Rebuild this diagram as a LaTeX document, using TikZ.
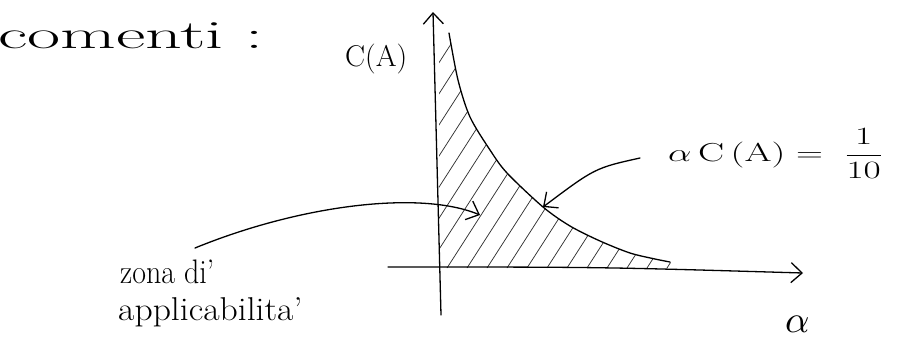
\documentclass[tikz,border=0pt]{standalone}
\usetikzlibrary{arrows.meta}
\begin{document}
\begin{tikzpicture}[x=1pt,y=-1pt,
  ink/.style={line width=1.3pt,line cap=round,line join=round,black},
  barb/.style={-{Straight Barb[length=11pt,width=20pt,line width=1.3pt]}},
  hatch/.style={line width=0.75pt,black!80},
  hand/.style={inner sep=0pt,anchor=base west}]
\useasboundingbox (0,0) rectangle (907,349);
% hatched region between axis and curve
\begin{scope}
\clip (439,268) -- (439,36) -- (449,33)
  -- plot[smooth] coordinates {(449,33) (458,80) (470,117) (490,150) (507,173) (543,207) (570,226) (600,241) (630,253) (655,259) (670,262)}
  -- (676,268) -- cycle;
\foreach \i in {-20,...,14}{
  \draw[hatch] (447+\i*20,268) -- ++(180,-280);
}
\end{scope}
% curve alpha C(A) = 1/10
\draw[ink] plot[smooth] coordinates {(449,33) (458,80) (470,117) (490,150) (507,173) (543,207) (570,226) (600,241) (630,253) (655,259) (670,262)};
\coordinate (cpt) at (543,207);
% axes
\coordinate (yb) at (441,315);
\coordinate (yt) at (433,12);
\coordinate (xl) at (388,267);
\coordinate (xr) at (803,273);
\draw[ink,barb] (yb) -- (yt);
\draw[ink,barb] (xl) .. controls (600,267) .. (xr);
% labels
\node[hand] (title) at (-2,48) {\fontsize{40}{40}\selectfont\scalebox{1.8}[1]{comenti\ :}};
\node[hand] (ca) at (345,66) {\fontsize{30}{30}\selectfont C(A)};
\node[hand] (zona) at (120,283) {\fontsize{34}{34}\selectfont\scalebox{0.88}[1]{zona di'}};
\node[hand] (appl) at (118,320) {\fontsize{33}{33}\selectfont\scalebox{1.08}[1]{applicabilita'}};
\node[hand] (eq) at (668,161) {\fontsize{26}{26}\selectfont\scalebox{1.5}[1]{$\alpha$\,C\,(A)\;$=$\;\;$\displaystyle\frac{1}{10}$}};
\node[hand] (alpha) at (785,332) {\scalebox{3.8}{$\alpha$}};
% arrows
\coordinate (a1s) at (640,158);
\coordinate (a2s) at (195,248);
\coordinate (a2e) at (480,215);
\draw[ink,barb] (a1s) .. controls (595,168) .. (cpt);
\draw[ink,barb] (a2s) .. controls (300,205) and (420,190) .. (a2e);
\end{tikzpicture}
\end{document}
